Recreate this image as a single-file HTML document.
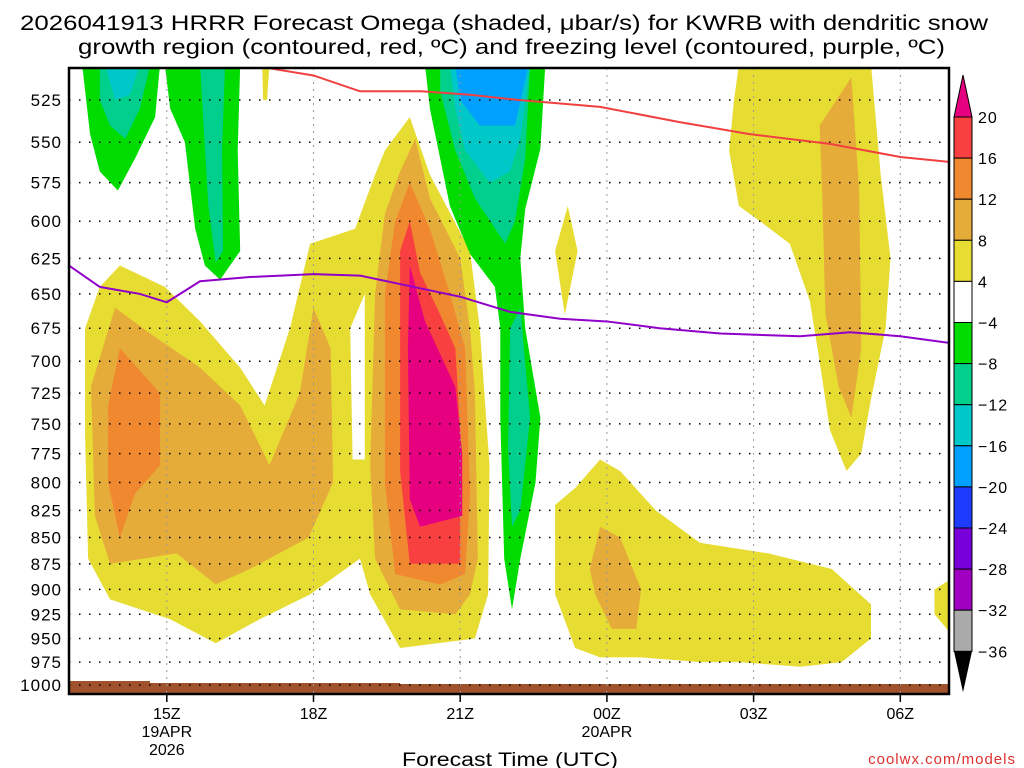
<!DOCTYPE html>
<html><head><meta charset="utf-8">
<style>
body{margin:0;background:#fff;}
svg{display:block;font-family:"Liberation Sans","DejaVu Sans",sans-serif;}
</style></head>
<body>
<svg id="chart" width="1024" height="768" viewBox="0 0 1024 768" xmlns="http://www.w3.org/2000/svg">
<rect width="1024" height="768" fill="#fff"/>
<text x="20" y="30" font-size="21" textLength="968" lengthAdjust="spacingAndGlyphs" fill="#000">2026041913 HRRR Forecast Omega (shaded, μbar/s) for KWRB with dendritic snow</text>
<text x="78" y="54" font-size="21" textLength="867" lengthAdjust="spacingAndGlyphs" fill="#000">growth region (contoured, red, ºC) and freezing level (contoured, purple, ºC)</text>
<defs><clipPath id="plotclip"><rect x="69" y="68" width="880" height="626"/></clipPath></defs>
<g id="plot" clip-path="url(#plotclip)"></g>
<g id="grid"></g>
<g id="lines" clip-path="url(#plotclip)"></g>
<rect x="69" y="68" width="880" height="626" fill="none" stroke="#000" stroke-width="2.5"/>
<g id="yaxis"></g>
<g id="xaxis"></g>
<text x="402" y="766" font-size="19" textLength="216" lengthAdjust="spacingAndGlyphs">Forecast Time (UTC)</text>
<text x="1016" y="764" font-size="15" text-anchor="end" fill="#e03030" letter-spacing="1">coolwx.com/models</text>
<g id="cbar"></g>
</svg>
<script>
// hours since 13Z 19APR, pressures in hPa
const yTicks = [525,550,575,600,625,650,675,700,725,750,775,800,825,850,875,900,925,950,975,1000];
const xTickHours = [2,5,8,11,14,17];
const xTickLabels = [["15Z","19APR","2026"],["18Z"],["21Z"],["00Z","20APR"],["03Z"],["06Z"]];
const cbarLabels = ["20","16","12","8","4","−4","−8","−12","−16","−20","−24","−28","−32","−36"];
const cbarColors = ["#f84040","#f08830","#e6ac3a","#e6dc32","#ffffff","#00dc00","#00d08c","#00c8c8","#00a0ff","#1e3cff","#7800d8","#a000c0","#aaaaaa"];

const yellowMain = [[0.33,675],[0.63,645],[1.04,630],[1.96,645],[2.68,670],[3.5,705],[4.0,735],[4.52,675],[4.93,615],[5.85,605],[6.26,570],[6.46,555],[6.97,535],[7.38,570],[8.2,620],[8.4,675],[8.6,785],[8.57,905],[8.3,950],[6.77,960],[6.16,905],[5.95,870],[4.93,905],[3.9,930],[3.0,955],[2.07,930],[0.84,910],[0.39,870],[0.33,760]];
const whiteGap = [[5.75,675],[6.05,650],[6.05,780],[5.8,780]];
const ltOrangeLeft = [[0.45,720],[0.94,660],[1.7,680],[2.68,705],[3.5,735],[4.1,785],[4.72,725],[5.0,660],[5.35,690],[5.4,800],[4.9,850],[3.7,880],[3.0,895],[2.2,865],[0.84,875],[0.53,830]];
const orangeLeft = [[0.8,735],[1.04,690],[1.86,725],[1.86,785],[1.35,810],[1.04,850],[0.8,800]];
const ltOrangeCenter = [[6.26,650],[6.46,595],[6.77,568],[7.08,548],[7.38,585],[8.0,625],[8.2,675],[8.3,725],[8.36,870],[8.2,905],[7.9,925],[6.77,920],[6.26,870],[6.16,785]];
const orangeCenter = [[6.46,650],[6.67,600],[6.97,575],[7.38,605],[7.79,650],[8.1,690],[8.2,810],[8.1,885],[7.59,895],[6.67,885],[6.46,800]];
const redCenter = [[6.77,645],[6.77,620],[6.97,600],[7.18,635],[7.59,665],[7.9,690],[8.0,755],[8.0,875],[6.97,875],[6.77,790]];
const magentaCenter = [[6.93,690],[6.97,630],[7.28,670],[7.9,720],[8.04,775],[8.04,830],[7.18,840],[6.97,815]];
const greenCenter = [[7.28,505],[9.74,505],[9.64,554],[9.33,592],[9.23,625],[9.33,675],[9.64,745],[9.54,800],[9.23,870],[9.06,920],[8.9,870],[8.82,745],[8.82,675],[8.71,645],[8.2,622],[7.79,590],[7.38,530]];
const tealCenter = [[7.59,505],[9.43,505],[9.33,560],[9.12,600],[8.92,615],[8.3,585],[7.9,555],[7.59,520]];
const tealStrip = [[9.02,675],[9.23,660],[9.43,745],[9.23,825],[9.06,840],[8.98,770]];
const cyanCenter = [[7.79,505],[9.43,505],[9.23,548],[9.02,568],[8.6,575],[8.1,555],[7.9,530]];
const blueCenter = [[7.9,505],[9.4,505],[9.12,540],[8.4,540],[8.0,525]];
const greenLeft = [[0.27,505],[1.86,505],[1.76,535],[1.35,560],[1.0,580],[0.63,568],[0.43,545]];
const tealLeft = [[0.63,505],[1.66,505],[1.45,530],[1.15,548],[0.84,540],[0.63,525]];
const cyanLeft = [[0.74,505],[1.45,505],[1.25,522],[0.94,525]];
const greenCol2 = [[1.96,505],[3.5,505],[3.45,555],[3.5,620],[3.09,640],[2.78,630],[2.58,605],[2.37,550],[2.07,530]];
const tealCol2 = [[2.68,505],[3.19,505],[3.13,555],[3.15,620],[3.0,628],[2.85,590],[2.75,540]];
const yellowSliver = [[3.95,505],[4.1,505],[4.05,525],[3.97,525]];
const yellowDiamond = [[9.94,620],[10.2,590],[10.4,620],[10.14,665]];
const yellowBottomRight = [[9.94,820],[10.35,805],[10.86,780],[11.27,790],[12.0,825],[12.9,855],[14.3,865],[15.6,880],[16.4,915],[16.4,950],[15.8,975],[14.96,980],[13.7,975],[12.9,975],[11.7,970],[10.86,970],[10.35,960],[9.94,905]];
const ltOrangeBottomRight = [[10.65,880],[10.86,840],[11.27,850],[11.7,900],[11.6,940],[11.1,940],[10.76,905]];
const yellowTopRight = [[13.6,525],[13.7,505],[16.4,505],[16.6,570],[16.8,625],[16.7,675],[16.4,730],[16.2,775],[15.9,790],[15.56,755],[15.35,700],[15.15,655],[14.74,615],[14.13,600],[13.7,590],[13.5,555]];
const ltOrangeTopRight = [[15.35,540],[16.0,512],[16.16,580],[16.2,690],[16.0,745],[15.74,720],[15.47,665],[15.4,580]];
const yellowFarRight = [[17.7,900],[18.2,885],[18.2,955],[17.7,925]];
const dgzHours = [4.1,5.0,5.95,7.2,8.2,9.2,10.86,12.5,13.9,15.56,17,18];
const dgzPres = [507,511,520,520,522,525,529,538,545,551,559,562];
const frzHours = [0,0.63,1.45,2,2.68,3.7,5,5.95,7.18,8,9.02,10.04,11,12.08,13.32,14.95,15.97,17,18];
const frzPres = [630,645,650,656,641,638,636,637,646,652,663,668,670,675,679,681,678,681,686];

const NS="http://www.w3.org/2000/svg";
const X0=69, PXH=48.9;
function xs(h){return X0+h*PXH;}
function ys(p){return 100+908*Math.log(p/525);}
function mk(tag,attrs,parent){const e=document.createElementNS(NS,tag);for(const k in attrs)e.setAttribute(k,attrs[k]);parent.appendChild(e);return e;}
const plot=document.getElementById('plot');
function poly(pts,fill,name){
  const e=mk('polygon',{points:pts.map(q=>xs(q[0]).toFixed(1)+','+ys(q[1]).toFixed(1)).join(' '),fill:fill},plot);
  
  
}
const Y="#e6dc32",LO="#e6ac3a",O="#f08830",R="#f84040",M="#e6007f",G="#00dc00",T="#00d08c",C="#00c8c8",B="#00a0ff";
poly(yellowMain,Y,'omega-4-8-main');
poly(whiteGap,"#fff",'omega-gap');
poly(ltOrangeLeft,LO,'omega-8-12-left');
poly(orangeLeft,O,'omega-12-16-left');
poly(ltOrangeCenter,LO,'omega-8-12-center');
poly(orangeCenter,O,'omega-12-16-center');
poly(redCenter,R,'omega-16-20-center');
poly(magentaCenter,M,'omega-20-plus-center');
poly(greenCenter,G,'omega-neg4-8-center');
poly(tealCenter,T,'omega-neg8-12-center');
poly(tealStrip,T,'omega-neg8-12-strip');
poly(cyanCenter,C,'omega-neg12-16-center');
poly(blueCenter,B,'omega-neg16-20-center');
poly(greenLeft,G,'omega-neg4-8-left');
poly(tealLeft,T,'omega-neg8-12-left');
poly(cyanLeft,C,'omega-neg12-16-left');
poly(greenCol2,G,'omega-neg4-8-col2');
poly(tealCol2,T,'omega-neg8-12-col2');
poly(yellowSliver,Y,'omega-4-8-sliver');
poly(yellowDiamond,Y,'omega-4-8-diamond');
poly(yellowBottomRight,Y,'omega-4-8-bottom-right');
poly(ltOrangeBottomRight,LO,'omega-8-12-bottom-right');
poly(yellowTopRight,Y,'omega-4-8-top-right');
poly(ltOrangeTopRight,LO,'omega-8-12-top-right');
poly(yellowFarRight,Y,'omega-4-8-far-right');
// ground
const gnd=mk('polygon',{points:`69,681 150,681 150,683 400,683 400,684 949,684 949,694 69,694`,fill:"#a0522d"},plot);



// grid
const grid=document.getElementById('grid');
yTicks.forEach(p=>{
  const l=mk('line',{x1:69,x2:949,y1:ys(p),y2:ys(p),stroke:"#000","stroke-width":1.5,"stroke-dasharray":"1.5 8.5"},grid);
  
  
});
xTickHours.forEach(h=>{
  const l=mk('line',{x1:xs(h),x2:xs(h),y1:68,y2:694,stroke:"#999","stroke-width":1,"stroke-dasharray":"2 5"},grid);
  
  
});
// lines
const lines=document.getElementById('lines');
const dgz=mk('polyline',{points:dgzHours.map((h,i)=>xs(h)+','+ys(dgzPres[i])).join(' '),fill:"none",stroke:"#f04040","stroke-width":2},lines);


const frz=mk('polyline',{points:frzHours.map((h,i)=>xs(h)+','+ys(frzPres[i])).join(' '),fill:"none",stroke:"#9000c8","stroke-width":2},lines);


// y axis
const ya=document.getElementById('yaxis');
yTicks.forEach(p=>{
  const t=mk('text',{x:62,y:ys(p)+6,"font-size":17,"text-anchor":"end","letter-spacing":"1"},ya);
  t.textContent=p;
  
  
});
// x axis
const xa=document.getElementById('xaxis');
xTickHours.forEach((h,i)=>{
  const tk=mk('line',{x1:xs(h),x2:xs(h),y1:694,y2:702,stroke:"#000","stroke-width":1.5},xa);
  
  
  xTickLabels[i].forEach((s,j)=>{
    const t=mk('text',{x:xs(h),y:719+j*18,"font-size":16,"text-anchor":"middle"},xa);
    t.textContent=s;
    
    
  });
});
// colorbar
const cb=document.getElementById('cbar');
const cbX=954,cbW=18,cbTop=117,cbStep=41.1;
const up=mk('polygon',{points:`${cbX},${cbTop} ${cbX+cbW},${cbTop} ${cbX+cbW/2},75`,fill:M,stroke:"#000"},cb);


cbarColors.forEach((c,i)=>{
  const r=mk('rect',{x:cbX,y:cbTop+i*cbStep,width:cbW,height:cbStep,fill:c,stroke:"#000","stroke-width":1},cb);
  
  
});
const bot=cbTop+cbarColors.length*cbStep;
const dn=mk('polygon',{points:`${cbX},${bot} ${cbX+cbW},${bot} ${cbX+cbW/2},${bot+41}`,fill:"#000"},cb);


cbarLabels.forEach((s,i)=>{
  const t=mk('text',{x:978,y:cbTop+i*cbStep+6,"font-size":16,"letter-spacing":"1"},cb);
  t.textContent=s;
  
  
});
</script>
</body></html>
